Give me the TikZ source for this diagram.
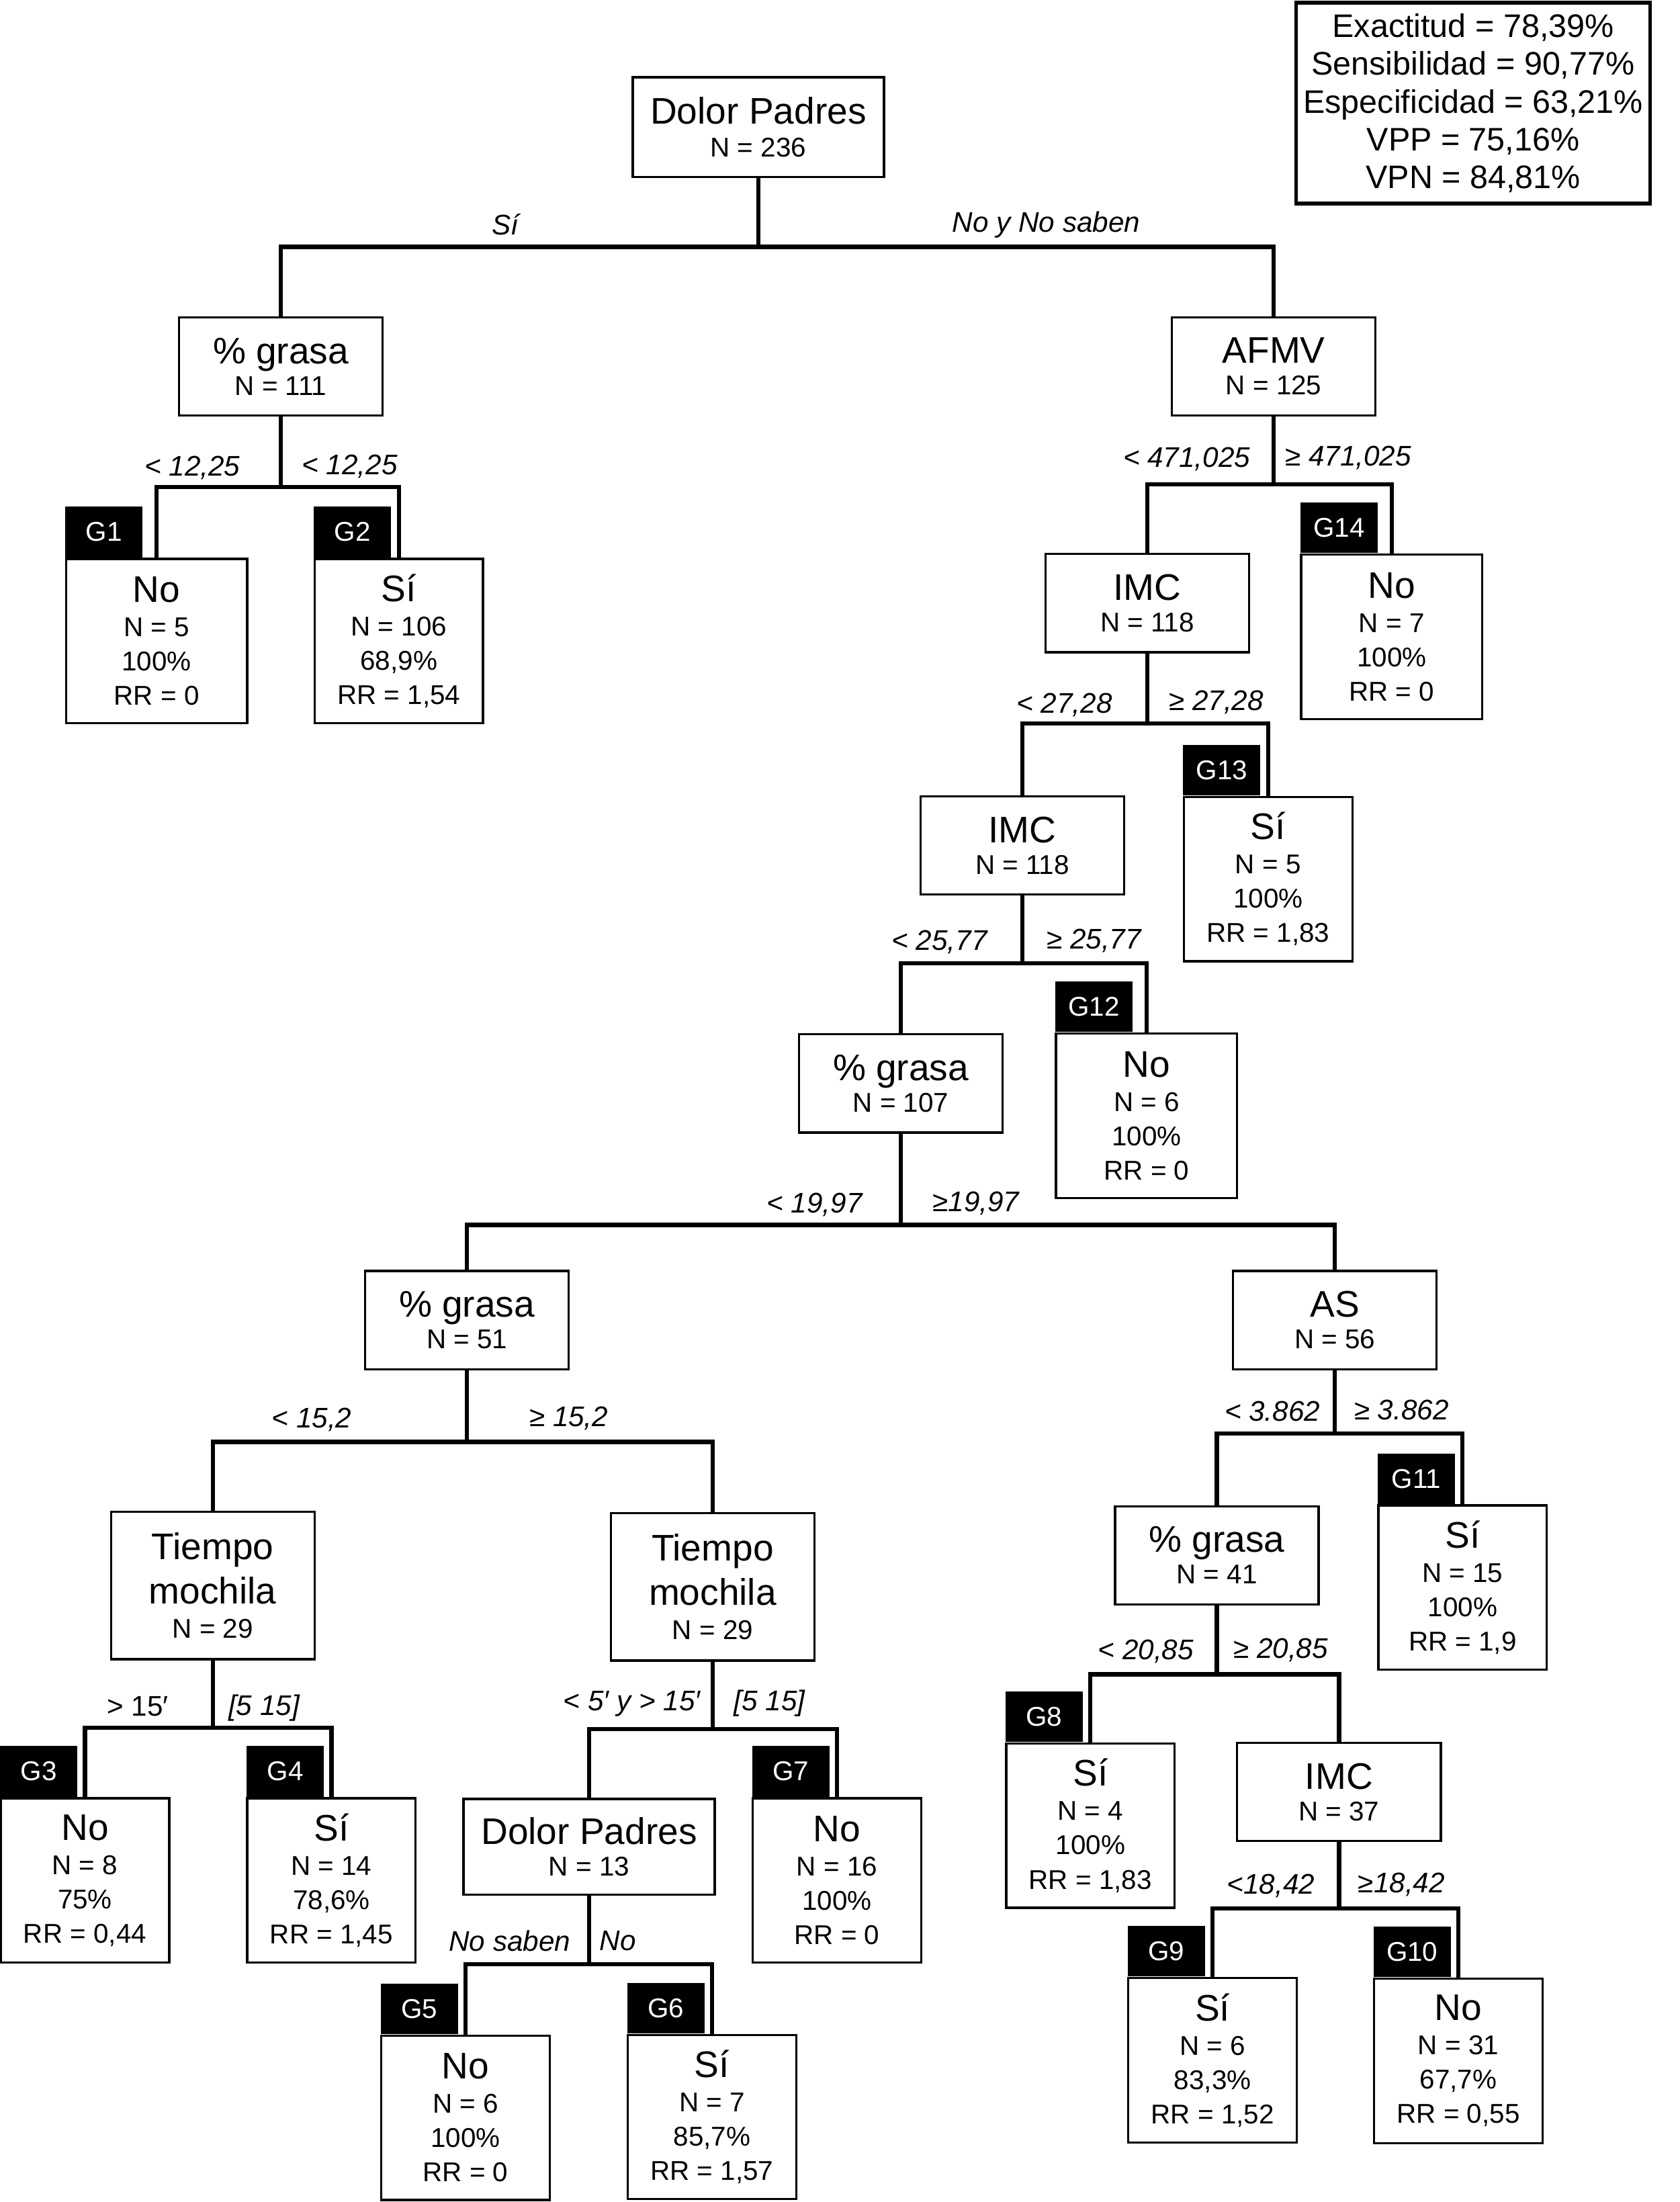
\documentclass[tikz,border=0pt]{standalone}
\usepackage{fontspec}
\setmainfont{Liberation Sans}
\usepackage{tikz}

\newcommand{\bigtxt}[1]{{\fontsize{15}{18}\selectfont #1}}
\newcommand{\treebranch}[4]{%
  \draw[edge] (#1.south) -- ++(0,#4) coordinate (#1bar) -| (#2.north);
  \draw[edge] (#1bar) -| (#3.north);
}

\begin{document}
\begin{tikzpicture}[x=0.02cm,y=-0.02cm,
  box/.style={draw,line width=0.9pt,fill=white,align=center,inner sep=0pt,
    minimum width=2.9cm,minimum height=1.4cm,font=\fontsize{11}{13.9}\selectfont},
  leaf/.style={box,minimum width=2.4cm,minimum height=2.34cm},
  wide/.style={minimum width=2.58cm},
  tag/.style={fill=black,text=white,inner sep=0pt,minimum width=1.1cm,
    minimum height=0.72cm,font=\fontsize{11}{13}\selectfont},
  lbl/.style={inner sep=0pt,font=\fontsize{11.5}{14}\selectfont\itshape},
  edge/.style={line width=1.7pt}]
\useasboundingbox (0,0) rectangle (1196,1568);

% resumen
\node[draw,line width=1.5pt,minimum width=5.04cm,minimum height=2.86cm,align=center,
  inner sep=0pt,font=\fontsize{13.2}{15.3}\selectfont] (stats) at (1049,73.5)
  {Exactitud = 78,39\%\\Sensibilidad = 90,77\%\\Especificidad = 63,21\%\\VPP = 75,16\%\\VPN = 84,81\%};

% nodos internos
\node[box,minimum width=3.58cm,minimum height=1.42cm] (root) at (540,90.5) {\bigtxt{Dolor Padres}\\[-0.6pt]N = 236};
\node[box] (pg111) at (200,261) {\bigtxt{\% grasa}\\[-1.1pt]N = 111};
\node[box] (afmv) at (907,261) {\bigtxt{AFMV}\\[-1.1pt]N = 125};
\node[box] (imca) at (817,429.5) {\bigtxt{IMC}\\[-1.1pt]N = 118};
\node[box] (imcb) at (728,602) {\bigtxt{IMC}\\[-1.1pt]N = 118};
\node[box] (pg107) at (641.5,771.5) {\bigtxt{\% grasa}\\[-1.1pt]N = 107};
\node[box] (pg51) at (332.5,940) {\bigtxt{\% grasa}\\[-1.1pt]N = 51};
\node[box] (as56) at (950.5,940) {\bigtxt{AS}\\[-1.1pt]N = 56};
\node[box,minimum height=2.1cm] (tma) at (151.5,1129) {\bigtxt{Tiempo}\\[3.1pt]\bigtxt{mochila}\\[0pt]N = 29};
\node[box,minimum height=2.1cm] (tmb) at (507.5,1130) {\bigtxt{Tiempo}\\[3.1pt]\bigtxt{mochila}\\[0pt]N = 29};
\node[box,minimum width=3.58cm,minimum height=1.36cm] (dp13) at (419.5,1315) {\bigtxt{Dolor Padres}\\[-1.1pt]N = 13};
\node[box] (pg41) at (866.5,1107.5) {\bigtxt{\% grasa}\\[-1.1pt]N = 41};
\node[box] (imc37) at (953.5,1276) {\bigtxt{IMC}\\[-1.1pt]N = 37};

% hojas
\node[leaf,wide] (g1) at (111.5,456.5) {\bigtxt{No}\\[0pt]N = 5\\100\%\\RR = 0};
\node[leaf] (g2) at (284,456.5) {\bigtxt{Sí}\\[0pt]N = 106\\68,9\%\\RR = 1,54};
\node[leaf,wide] (g14) at (991,453.5) {\bigtxt{No}\\[0pt]N = 7\\100\%\\RR = 0};
\node[leaf] (g13) at (903,626) {\bigtxt{Sí}\\[0pt]N = 5\\100\%\\RR = 1,83};
\node[leaf,wide] (g12) at (816.5,794.5) {\bigtxt{No}\\[0pt]N = 6\\100\%\\RR = 0};
\node[leaf] (g3) at (60.5,1339) {\bigtxt{No}\\[0pt]N = 8\\75\%\\RR = 0,44};
\node[leaf] (g4) at (236,1339) {\bigtxt{Sí}\\[0pt]N = 14\\78,6\%\\RR = 1,45};
\node[leaf] (g7) at (596,1339) {\bigtxt{No}\\[0pt]N = 16\\100\%\\RR = 0};
\node[leaf] (g5) at (331.5,1508) {\bigtxt{No}\\[0pt]N = 6\\100\%\\RR = 0};
\node[leaf] (g6) at (507,1507.5) {\bigtxt{Sí}\\[0pt]N = 7\\85,7\%\\RR = 1,57};
\node[leaf] (g11) at (1041.5,1130.5) {\bigtxt{Sí}\\[0pt]N = 15\\100\%\\RR = 1,9};
\node[leaf] (g8) at (776.5,1300) {\bigtxt{Sí}\\[0pt]N = 4\\100\%\\RR = 1,83};
\node[leaf] (g9) at (863.5,1467) {\bigtxt{Sí}\\[0pt]N = 6\\83,3\%\\RR = 1,52};
\node[leaf] (g10) at (1038.5,1467.5) {\bigtxt{No}\\[0pt]N = 31\\67,7\%\\RR = 0,55};

% etiquetas de grupo
\foreach \g/\t in {g1/G1,g2/G2,g3/G3,g4/G4,g5/G5,g6/G6,g7/G7,g8/G8,g9/G9,
  g10/G10,g11/G11,g12/G12,g13/G13,g14/G14}
  \node[tag,anchor=south west] (\g tag) at (\g.north west) {\t};

% ramas
\treebranch{root}{pg111}{afmv}{49}
\treebranch{pg111}{g1}{g2}{50}
\treebranch{afmv}{imca}{g14}{48}
\treebranch{imca}{imcb}{g13}{50}
\treebranch{imcb}{pg107}{g12}{48}
\treebranch{pg107}{pg51}{as56}{65}
\treebranch{pg51}{tma}{tmb}{51}
\treebranch{tma}{g3}{g4}{48}
\treebranch{tmb}{dp13}{g7}{48}
\treebranch{dp13}{g5}{g6}{49}
\treebranch{as56}{pg41}{g11}{45}
\treebranch{pg41}{g8}{imc37}{49}
\treebranch{imc37}{g9}{g10}{47}

% condiciones
\node[lbl] (c1a) at (360,160) {Sí};
\node[lbl] (c1b) at (745,160) {No y No saben};
\node[lbl] (c2a) at (137,333) {< 12,25};
\node[lbl] (c2b) at (249,332) {< 12,25};
\node[lbl] (c3a) at (845,327) {< 471,025};
\node[lbl] (c3b) at (960,326) {≥ 471,025};
\node[lbl] (c4a) at (758,502) {< 27,28};
\node[lbl] (c4b) at (866,500) {≥ 27,28};
\node[lbl] (c5a) at (669,671) {< 25,77};
\node[lbl] (c5b) at (779,670) {≥ 25,77};
\node[lbl] (c6a) at (580,858) {< 19,97};
\node[lbl] (c6b) at (695,857) {≥19,97};
\node[lbl] (c7a) at (222,1011) {< 15,2};
\node[lbl] (c7b) at (405,1010) {≥ 15,2};
\node[lbl,font=\fontsize{11.5}{14}\selectfont] (c8a) at (98,1215) {> 15′};
\node[lbl] (c8b) at (188,1216) {[5 15]};
\node[lbl] (c9a) at (450,1213) {< 5′ y > 15′};
\node[lbl] (c9b) at (548,1213) {[5 15]};
\node[lbl] (c10a) at (363,1382) {No saben};
\node[lbl] (c10b) at (440,1382) {No};
\node[lbl] (c11a) at (906,1005) {< 3.862};
\node[lbl] (c11b) at (998,1004) {≥ 3.862};
\node[lbl] (c12a) at (816,1176) {< 20,85};
\node[lbl] (c12b) at (912,1175) {≥ 20,85};
\node[lbl] (c13a) at (905,1343) {<18,42};
\node[lbl] (c13b) at (998,1342) {≥18,42};
\end{tikzpicture}
\end{document}
